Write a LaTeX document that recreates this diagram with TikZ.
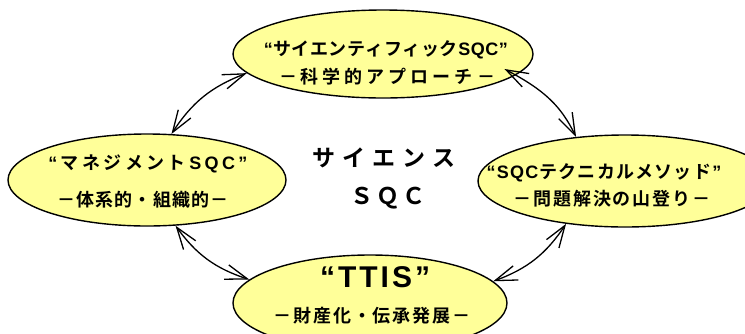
\documentclass[tikz,border=0pt]{standalone}
\usepackage{fontspec}
\setmainfont{Liberation Sans}
\IfFontExistsTF{Noto Sans CJK JP Bold}{%
  \newfontfamily\jp{Noto Sans CJK JP Bold}
  \newcommand\pb[1]{#1}}{%
  \newfontfamily\jp{Noto Sans CJK JP}
  \newcommand\pb[1]{\rlap{\kern1pt #1}\rlap{\raisebox{0.5pt}{\kern0.5pt #1}}#1}}
\newfontfamily\lat{Liberation Sans}
\usetikzlibrary{shapes.geometric,arrows.meta}
\definecolor{bubfill}{HTML}{FFFF99}
\ExplSyntaxOn
\NewDocumentCommand\lsp{mm}{\tl_map_inline:nn{#2}{##1\kern#1}\kern-#1\relax}
\ExplSyntaxOff
\newcommand\lt[1]{{\lat\bfseries #1}}
\begin{document}
\begin{tikzpicture}[x=1pt,y=1pt,
  bub/.style={ellipse, draw=black, line width=1.4pt, fill=bubfill, inner sep=0pt},
  lblA/.style={inner sep=0pt, font=\jp\fontsize{18}{20}\selectfont},
  lblB/.style={inner sep=0pt, font=\jp\fontsize{30}{32}\selectfont},
  big/.style={inner sep=0pt, font=\jp\fontsize{23}{26}\selectfont},
  arr/.style={{Straight Barb[length=22pt,width=15pt]}-{Straight Barb[length=22pt,width=15pt]}, line width=1.3pt},
]
\useasboundingbox (0,0) rectangle (745,-333);
% bubbles
\node[bub, minimum width=300pt, minimum height=88pt] (top) at (383,-54) {};
\node[bub, minimum width=278pt, minimum height=92pt] (left) at (147,-180) {};
\node[bub, minimum width=294pt, minimum height=92pt] (right) at (625,-181) {};
\node[bub, minimum width=274pt, minimum height=96pt] (bot) at (370,-303) {};
% texts
\node[lblA] (t1) at (386,-50) {\pb{\lsp{0.5pt}{{\lt{“}}サイエンティフィック{\lt{S}}{\lt{Q}}{\lt{C}}{\lt{”}}}}};
\node[lblA] (t2) at (387,-77) {\pb{\lsp{4pt}{－科学的アプローチ－}}};
\node[lblA] (l1) at (148,-164) {\pb{\lsp{3.4pt}{{\lt{“}}マネジメント{\lt{S}}{\lt{Q}}{\lt{C}}{\lt{”}}}}};
\node[lblA] (l2) at (143,-200) {\pb{\lsp{1.2pt}{－体系的・組織的－}}};
\node[lblA] (r1) at (604,-173) {\pb{\lsp{1.2pt}{{\lt{“}}{\lt{S}}{\lt{Q}}{\lt{C}}テクニカルメソッド{\lt{”}}}}};
\node[lblA] (r2) at (612,-199) {\pb{\lsp{1.9pt}{－問題解決の山登り－}}};
\node[lblB] (b1) at (375,-277) {\lsp{3pt}{{\lt{“}}{\lt{T}}{\lt{T}}{\lt{I}}{\lt{S}}{\lt{”}}}};
\node[lblA] (b2) at (372,-316) {\pb{\lsp{1.9pt}{－財産化・伝承発展－}}};
\node[big] (c1) at (384,-158) {\pb{\lsp{7pt}{サイエンス}}};
\node[big] (c2) at (388,-198) {\pb{\lsp{3.5pt}{ＳＱＣ}}};
% connectors
\draw[arr] (left.62) to[bend left=18] (top.188);
\draw[arr, shorten <=-13pt] (top.351) to[bend left=18] (right.138);
\draw[arr] (left.302) to[bend right=18] (bot.169);
\draw[arr] (right.216) to[bend left=18] (bot.10);
\end{tikzpicture}
\end{document}
